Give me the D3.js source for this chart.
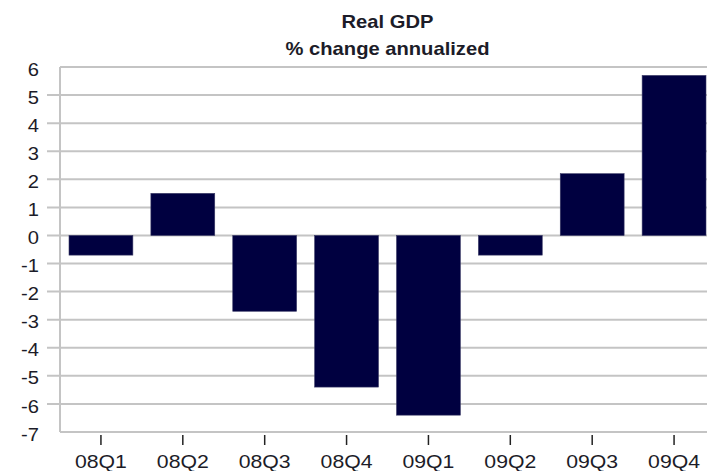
<!DOCTYPE html>
<html>
<head>
<meta charset="utf-8">
<script src="https://cdn.jsdelivr.net/npm/d3@7"></script>
<style>
  html, body { margin: 0; padding: 0; background: #fff; }
  svg { display: block; }
  text { font-family: "Liberation Sans", Arial, sans-serif; fill: #1c1c28; }
</style>
</head>
<body>
<svg id="chart" width="707" height="471"></svg>
<script>
const categories = ["08Q1", "08Q2", "08Q3", "08Q4", "09Q1", "09Q2", "09Q3", "09Q4"];
const values = [-0.7, 1.5, -2.7, -5.4, -6.4, -0.7, 2.2, 5.7];
const yTicks = [6, 5, 4, 3, 2, 1, 0, -1, -2, -3, -4, -5, -6, -7];
const titleLines = ["Real GDP", "% change annualized"];

const svg = d3.select("#chart");
const W = 707, H = 471;
const plot = { left: 60, right: 715, top: 67, bottom: 432 };

const x = d3.scaleBand().domain(categories).range([plot.left, plot.right])
  .paddingInner(0.22).paddingOuter(0.11);
const y = d3.scaleLinear().domain([-7, 6]).range([plot.bottom, plot.top]);

const gridColor = "#c4c4c4";
const sx = 1.18;

// gridlines (interior ticks extend left of axis)
svg.append("g").selectAll("line").data(yTicks.filter(d => d !== 6 && d !== -7)).join("line")
  .attr("x1", plot.left - 13).attr("x2", W)
  .attr("y1", d => y(d)).attr("y2", d => y(d))
  .attr("stroke", gridColor).attr("stroke-width", 2);

// plot border: top, left, bottom
svg.append("line").attr("x1", plot.left).attr("x2", W).attr("y1", plot.top).attr("y2", plot.top)
  .attr("stroke", gridColor).attr("stroke-width", 2);
svg.append("line").attr("x1", plot.left).attr("x2", W).attr("y1", plot.bottom).attr("y2", plot.bottom)
  .attr("stroke", gridColor).attr("stroke-width", 2);
svg.append("line").attr("x1", plot.left).attr("x2", plot.left).attr("y1", plot.top).attr("y2", plot.bottom)
  .attr("stroke", gridColor).attr("stroke-width", 2);

// bars
svg.append("g").selectAll("rect").data(values).join("rect")
  .attr("x", (d, i) => x(categories[i]))
  .attr("width", x.bandwidth())
  .attr("y", d => y(Math.max(0, d)))
  .attr("height", d => Math.abs(y(d) - y(0)))
  .attr("fill", "#000040")
  .attr("stroke", "#3a3a66").attr("stroke-width", 0.6);

// y axis labels (hyphen minus as in the original)
const yAxis = d3.axisLeft(y).tickValues(yTicks).tickSize(0).tickPadding(0).tickFormat(d => String(d));
const gy = svg.append("g").attr("transform", `translate(${plot.left - 21},0)`).call(yAxis);
gy.select(".domain").remove();
gy.selectAll("text")
  .style("font-family", "'Liberation Sans', Arial, sans-serif")
  .style("font-size", "18px").attr("fill", "#1c1c28")
  .attr("dy", "0.45em")
  .attr("transform", `scale(1.12,1)`);

// x axis
const xAxis = d3.axisBottom(x).tickSize(10).tickPadding(10);
const gx = svg.append("g").attr("transform", `translate(0,${plot.bottom + 3})`).call(xAxis);
gx.select(".domain").remove();
gx.selectAll(".tick line").attr("stroke", "#222").attr("stroke-width", 1.5);
gx.selectAll("text")
  .style("font-family", "'Liberation Sans', Arial, sans-serif")
  .style("font-size", "18px").attr("fill", "#1c1c28")
  .attr("transform", `scale(${sx},1)`);

// titles
const cx = (plot.left + plot.right) / 2;
svg.append("text").text(titleLines[0])
  .attr("transform", `translate(${cx},28) scale(1.12,1)`)
  .attr("text-anchor", "middle").style("font-size", "18px").style("font-weight", "bold");
svg.append("text").text(titleLines[1])
  .attr("transform", `translate(${cx},55) scale(1.12,1)`)
  .attr("text-anchor", "middle").style("font-size", "18px").style("font-weight", "bold");
</script>
</body>
</html>
